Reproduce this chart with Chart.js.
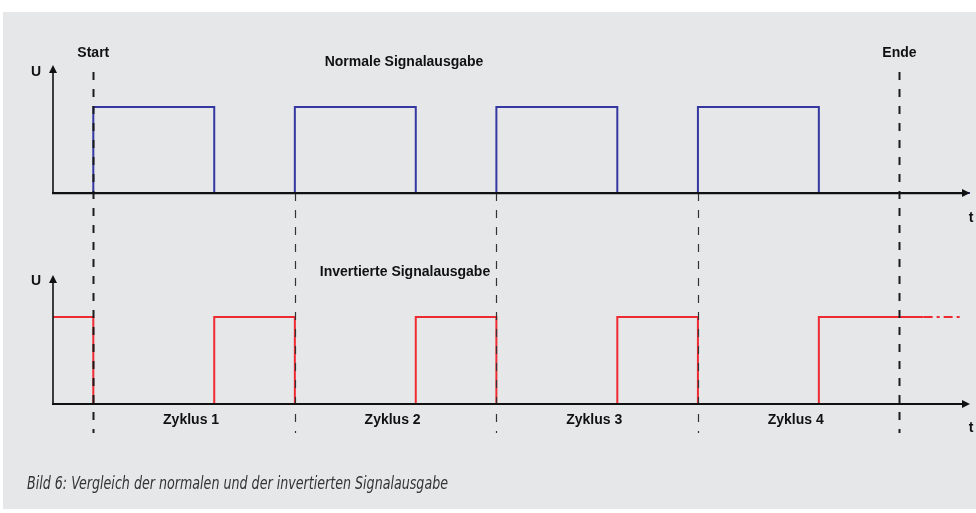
<!DOCTYPE html>
<html>
<head>
<meta charset="utf-8">
<script src="https://cdn.jsdelivr.net/npm/chart.js@4/dist/chart.umd.min.js"></script>
<style>
  html, body { margin: 0; padding: 0; background: #fff; }
  #wrap { width: 976px; height: 513px; position: relative; }
</style>
</head>
<body>
<div id="wrap"><canvas id="c" width="976" height="513"></canvas></div>
<script>
// Zeitachse: ein Zyklus = 10 Einheiten, Puls "high" für 6 Einheiten
var normalEdges  = [-2, 0, 6, 10, 16, 20, 26, 30, 36, 43.6];
var normalLevels = [0, 1, 0, 1, 0, 1, 0, 1, 0, 0];
var invEdges  = [-2, 0, 6, 10, 16, 20, 26, 30, 36, 41.2];
var invLevels = [1, 0, 1, 0, 1, 0, 1, 0, 1, 1];
var invTailX = [41.2, 43.1];   // gestrichelte Fortsetzung
var invTailY = [1, 1];
var cycleMarks = [0, 10, 20, 30, 40];
var cycleLabels = ["Zyklus 1", "Zyklus 2", "Zyklus 3", "Zyklus 4"];
var startLabel = "Start", endLabel = "Ende";
var titleTop = "Normale Signalausgabe";
var titleBottom = "Invertierte Signalausgabe";
var caption = "Bild 6: Vergleich der normalen und der invertierten Signalausgabe";

function pts(xs, ys) {
  var out = [];
  for (var i = 0; i < xs.length; i++) out.push({ x: xs[i], y: ys[i] });
  return out;
}

var BOLD = "bold 14px 'Liberation Sans', Arial, sans-serif";

var decor = {
  id: 'decor',
  beforeDraw: function(chart) {
    var ctx = chart.ctx;
    ctx.save();
    ctx.fillStyle = '#ffffff';
    ctx.fillRect(0, 0, chart.width, chart.height);
    ctx.fillStyle = '#e6e7e9';
    ctx.fillRect(3, 12, chart.width - 3, 497);
    ctx.restore();
  },
  afterDatasetsDraw: function(chart) {
    var ctx = chart.ctx, x = chart.scales.x, yT = chart.scales.y, yB = chart.scales.y2;
    var left = x.getPixelForValue(x.min), right = x.getPixelForValue(x.max);
    ctx.save();

    // Zyklus-Grenzen
    cycleMarks.forEach(function(v, i) {
      var px = Math.round(x.getPixelForValue(v)) + 0.5;
      var outer = (i === 0 || i === cycleMarks.length - 1);
      ctx.strokeStyle = outer ? '#1c1c1c' : '#333';
      ctx.lineWidth = outer ? 2 : 1.2;
      ctx.setLineDash([8, 9]);
      ctx.beginPath();
      ctx.moveTo(px, outer ? 72 : yT.getPixelForValue(0));
      ctx.lineTo(px, 433);
      ctx.stroke();
    });
    ctx.setLineDash([]);

    // Achsen mit Pfeilen
    [[yT, 65], [yB, 275]].forEach(function(pair) {
      var sc = pair[0], top = pair[1];
      var by = sc.getPixelForValue(0);
      ctx.strokeStyle = '#111';
      ctx.fillStyle = '#111';
      ctx.lineWidth = 2.2;
      ctx.beginPath();
      ctx.moveTo(left - 1, by);
      ctx.lineTo(right - 6, by);
      ctx.stroke();
      ctx.lineWidth = 1.6;
      ctx.beginPath();
      ctx.moveTo(left, by);
      ctx.lineTo(left, top + 6);
      ctx.stroke();
      ctx.beginPath();
      ctx.moveTo(right, by);
      ctx.lineTo(right - 8, by - 4);
      ctx.lineTo(right - 8, by + 4);
      ctx.closePath();
      ctx.fill();
      ctx.beginPath();
      ctx.moveTo(left, top);
      ctx.lineTo(left - 4, top + 8);
      ctx.lineTo(left + 4, top + 8);
      ctx.closePath();
      ctx.fill();
    });

    // Beschriftungen
    ctx.font = BOLD;
    ctx.fillStyle = '#111';
    ctx.textAlign = 'center';
    ctx.textBaseline = 'middle';
    ctx.fillText("U", 36, 72);
    ctx.fillText("U", 36, 281);
    ctx.fillText("t", 971, 218);
    ctx.fillText("t", 971, 428);
    ctx.fillText(startLabel, x.getPixelForValue(cycleMarks[0]), 53);
    ctx.fillText(endLabel, x.getPixelForValue(cycleMarks[cycleMarks.length - 1]), 53);
    ctx.fillText(titleTop, 404, 62);
    ctx.fillText(titleBottom, 405, 272);
    cycleLabels.forEach(function(lbl, i) {
      var cx = (x.getPixelForValue(cycleMarks[i]) + x.getPixelForValue(cycleMarks[i + 1])) / 2;
      ctx.fillText(lbl, cx - 3, 420);
    });

    // Bildunterschrift, schmal gestaucht
    ctx.font = "italic 17px 'DejaVu Sans Condensed', 'DejaVu Sans', sans-serif";
    ctx.fillStyle = '#333';
    ctx.textAlign = 'left';
    var w = ctx.measureText(caption).width;
    ctx.translate(27, 485);
    ctx.scale(421 / w, 1);
    ctx.fillText(caption, 0, 0);
    ctx.restore();
  }
};

new Chart(document.getElementById('c'), {
  type: 'line',
  data: {
    datasets: [
      { data: pts(normalEdges, normalLevels), yAxisID: 'y', stepped: true,
        borderColor: '#3438a0', borderWidth: 2, pointRadius: 0, fill: false },
      { data: pts(invEdges, invLevels), yAxisID: 'y2', stepped: true,
        borderColor: '#ee2a33', borderWidth: 2, pointRadius: 0, fill: false },
      { data: pts(invTailX, invTailY), yAxisID: 'y2',
        borderColor: '#ee2a33', borderWidth: 2, borderDash: [9, 4, 3, 4],
        pointRadius: 0, fill: false }
    ]
  },
  options: {
    responsive: false,
    animation: false,
    events: [],
    layout: { padding: { left: 53, right: 6, top: 65, bottom: 109 } },
    plugins: { legend: { display: false }, tooltip: { enabled: false } },
    scales: {
      x: { type: 'linear', min: -2, max: 43.5, display: false },
      y: { type: 'linear', min: -2.453, max: 1.489, display: false },
      y2: { type: 'linear', min: 0, max: 3.897, display: false }
    }
  },
  plugins: [decor]
});
</script>
</body>
</html>
